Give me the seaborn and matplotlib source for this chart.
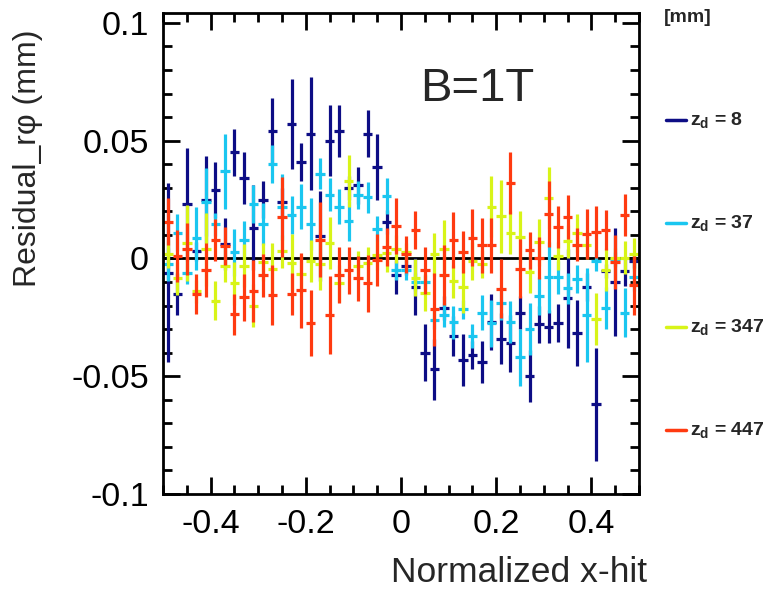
import numpy as np
import pandas as pd
import matplotlib
matplotlib.use("Agg")
import matplotlib.pyplot as plt
from matplotlib.ticker import MultipleLocator
import seaborn as sns

# 50 bins of normalized x-hit between -0.5 and 0.5
x_lo, x_hi, n_bins = -0.5, 0.5, 50
bin_width = (x_hi - x_lo) / n_bins
x_centers = np.linspace(x_lo + bin_width / 2, x_hi - bin_width / 2, n_bins)

labels = ["8", "37", "347", "447"]
colors = ["#0d0d85", "#1ac6f0", "#d8f418", "#ff3a10"]

# residual r-phi (mm) per bin
res_8 = [-0.006, -0.015, 0.023, 0.003, 0.025, 0.029, 0.006, 0.045, 0.034, 0.013,
         0.025, 0.054, 0.024, 0.057, 0.041, 0.053, 0.0095, 0.050, 0.054, 0.030,
         0.031, 0.053, 0.039, 0.0155, -0.007, -0.003, -0.012, -0.040, -0.047, -0.021,
         -0.033, -0.043, -0.041, -0.044, -0.027, -0.034, -0.036, -0.023, -0.050, -0.028,
         -0.029, -0.0275, -0.017, -0.0315, -0.012, -0.062, -0.0055, -0.010, -0.0055, -0.001]
err_8 = [0.038, 0.009, 0.024, 0.004, 0.0185, 0.012, 0.011, 0.010, 0.011, 0.018,
         0.008, 0.014, 0.006, 0.019, 0.008, 0.024, 0.019, 0.015, 0.011, 0.005,
         0.008, 0.010, 0.014, 0.005, 0.008, 0.004, 0.012, 0.012, 0.013, 0.005,
         0.0085, 0.011, 0.006, 0.009, 0.012, 0.011, 0.012, 0.007, 0.011, 0.008,
         0.007, 0.008, 0.021, 0.014, 0.006, 0.024, 0.003, 0.023, 0.006, 0.003]

res_37 = [-0.0025, 0.011, -0.006, 0.0085, 0.024, 0.0145, 0.037, 0.0027, 0.0078, 0.023,
          0.0145, 0.040, 0.022, 0.0185, 0.022, 0.0145, 0.036, 0.027, 0.022, 0.016,
          0.027, 0.026, 0.0127, 0.0264, -0.005, -0.005, -0.010, -0.010, -0.026, -0.024,
          -0.027, -0.0216, -0.033, -0.023, -0.0275, -0.019, -0.027, -0.042, -0.030, -0.016,
          -0.008, -0.008, -0.0127, -0.0086, -0.024, -0.001, -0.021, -0.0004, -0.023, -0.008]
err_37 = [0.007, 0.008, 0.005, 0.0135, 0.0145, 0.005, 0.016, 0.010, 0.008, 0.008,
          0.009, 0.008, 0.014, 0.008, 0.0095, 0.011, 0.0065, 0.007, 0.0075, 0.0085,
          0.006, 0.0065, 0.0055, 0.0076, 0.004, 0.004, 0.004, 0.003, 0.004, 0.005,
          0.007, 0.004, 0.005, 0.0075, 0.010, 0.007, 0.009, 0.012, 0.011, 0.008,
          0.015, 0.007, 0.0067, 0.006, 0.020, 0.0045, 0.009, 0.003, 0.0105, 0.006]

res_347 = [0.002, -0.0085, 0.0066, -0.014, 0.0038, -0.018, -0.003, -0.0106, -0.003, -0.020,
           -0.0014, -0.0044, 0.003, -0.0018, -0.0065, -0.001, -0.0025, 0.0066, -0.0106, 0.033,
           -0.003, -0.002, 0.0013, 0.0024, 0.004, 0.0027, -0.0082, -0.0145, 0.0017, 0.0042,
           -0.0096, -0.012, -0.0011, -0.0023, 0.022, 0.018, 0.011, 0.0092, -0.0058, 0.0069,
           0.0257, 0.001, 0.0073, 0.0109, 0.0056, -0.0258, -0.0047, 0.0003, 0.0003, 0.0017]
err_347 = [0.006, 0.007, 0.016, 0.005, 0.0155, 0.0083, 0.007, 0.009, 0.009, 0.009,
           0.008, 0.011, 0.007, 0.012, 0.008, 0.009, 0.011, 0.011, 0.008, 0.011,
           0.006, 0.007, 0.006, 0.008, 0.006, 0.004, 0.0078, 0.008, 0.009, 0.012,
           0.007, 0.0113, 0.008, 0.006, 0.013, 0.0155, 0.009, 0.011, 0.009, 0.010,
           0.013, 0.006, 0.007, 0.008, 0.006, 0.011, 0.009, 0.004, 0.007, 0.007]

res_447 = [0.0155, 0.001, 0.004, -0.015, -0.005, 0.0078, 0.0052, -0.0237, -0.0164, -0.0138,
           -0.0072, -0.0155, 0.0177, -0.015, -0.0136, -0.0275, 0.008, -0.024, -0.007, -0.005,
           -0.0085, -0.0106, -0.0007, 0.005, 0.0137, 0.0017, 0.012, -0.005, -0.0216, -0.0072,
           0.0078, 0.0028, 0.0088, 0.0056, 0.0055, -0.0128, 0.032, -0.0044, 0.0034, 0.0003,
           0.019, 0.0134, 0.0177, 0.0059, 0.0102, 0.0112, 0.012, -0.0016, 0.0184, -0.0114]
err_447 = [0.010, 0.011, 0.011, 0.0085, 0.0115, 0.009, 0.008, 0.0087, 0.010, 0.013,
           0.009, 0.0127, 0.017, 0.009, 0.016, 0.014, 0.016, 0.0167, 0.012, 0.010,
           0.0095, 0.012, 0.011, 0.008, 0.012, 0.008, 0.008, 0.010, 0.0155, 0.0127,
           0.0118, 0.0088, 0.012, 0.0117, 0.0115, 0.0125, 0.013, 0.0125, 0.008, 0.009,
           0.014, 0.009, 0.0094, 0.007, 0.0106, 0.011, 0.0085, 0.0115, 0.009, 0.0125]

frames = []
for lab, r, e in zip(labels, [res_8, res_37, res_347, res_447],
                     [err_8, err_37, err_347, err_447]):
    frames.append(pd.DataFrame({"x": x_centers, "res": r, "err": e, "zd": lab}))
df = pd.concat(frames, ignore_index=True)

sns.set_style("ticks")
plt.rcParams["font.family"] = ["Liberation Sans", "DejaVu Sans"]
plt.rcParams["axes.unicode_minus"] = False
plt.rcParams["mathtext.fontset"] = "custom"
plt.rcParams["mathtext.bf"] = "Liberation Sans:bold"
plt.rcParams["mathtext.rm"] = "Liberation Sans"

fig = plt.figure(figsize=(7.69, 5.90), dpi=100)
ax = fig.add_axes([163 / 769, 96 / 590, 476 / 769, 481 / 590])

ax.axhline(0, color="black", lw=2, zorder=1)
for lab, col in zip(labels, colors):
    d = df[df["zd"] == lab]
    ax.errorbar(d["x"], d["res"], yerr=d["err"], xerr=bin_width / 2,
                fmt="none", ecolor=col, elinewidth=2.3, capsize=0, zorder=2)

ax.set_xlim(x_lo, x_hi)
ax.set_ylim(-0.1, 0.1042)
ax.set_xticks([-0.4, -0.2, 0, 0.2, 0.4], ["-0.4", "-0.2", "0", "0.2", "0.4"])
ax.set_yticks([-0.1, -0.05, 0, 0.05, 0.1], ["-0.1", "-0.05", "0", "0.05", "0.1"])
ax.xaxis.set_minor_locator(MultipleLocator(0.05))
ax.yaxis.set_minor_locator(MultipleLocator(0.01))
ax.tick_params(which="both", direction="in", top=True, right=True, width=2, colors="black")
ax.tick_params(which="major", length=12, labelsize=24.5)
ax.tick_params(which="minor", length=6.5)
ax.tick_params(axis="y", pad=10)
ax.tick_params(axis="x", pad=11)
for sp in ax.spines.values():
    sp.set_linewidth(2)
    sp.set_color("black")
ax.set_xlabel("")
ax.set_ylabel("")

fig.text(28 / 769, 1 - 158 / 590, "Residual_r\u03c6 (mm)", rotation=90,
         ha="center", va="center", fontsize=23)
fig.text(647 / 769, 1 - 572 / 590, "Normalized x-hit", ha="right", va="center", fontsize=25.5)
fig.text(477 / 769, 1 - 89 / 590, "B=1T", ha="center", va="center", fontsize=34)

# legend drawn in the right margin
fig.text(688 / 769, 1 - 18 / 590, "[mm]", ha="center", va="center",
         fontsize=14, fontweight="bold")
leg_y = [120, 223, 327, 430]
for lab, col, yy in zip(labels, colors, leg_y):
    fy = 1 - yy / 590
    fig.add_artist(plt.Line2D([666 / 769, 686 / 769], [fy, fy], color=col, lw=2.5))
    fig.text(690 / 769, fy, r"$\mathbf{z_{d}}$ = " + lab, ha="left", va="center",
             fontsize=14, fontweight="bold")

fig.savefig("out.png", dpi=100, facecolor="white")
